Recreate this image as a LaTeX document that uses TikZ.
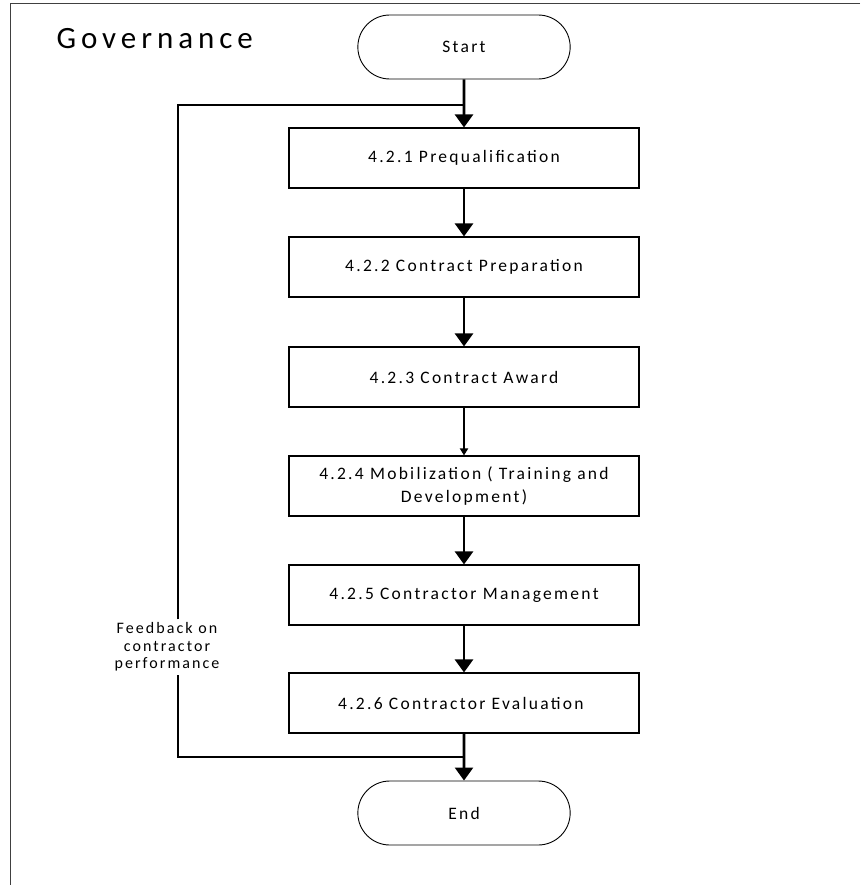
\documentclass[tikz,border=0pt]{standalone}
\usepackage{fontspec}
\setmainfont{Carlito}[LetterSpace=13]
\newfontfamily\titlefont{Carlito}[LetterSpace=16]
\usetikzlibrary{positioning, arrows.meta, shapes.misc}

\begin{document}
\begin{tikzpicture}[x=1pt, y=-1pt,
  procbox/.style={draw, line width=1.1pt, minimum width=350pt, minimum height=60pt,
    align=center, font=\fontsize{17.5}{23}\selectfont},
  termnode/.style={draw, rounded rectangle, line width=0.9pt, minimum width=219pt,
    minimum height=64pt, font=\fontsize{17.5}{21}\selectfont},
  flow/.style={line width=2.6pt, -{Triangle[width=18pt,length=13pt]}},
  smallflow/.style={line width=2.2pt, -{Triangle[width=8pt,length=7pt]}},
  loopline/.style={line width=2.6pt}]
  \useasboundingbox (0,0) rectangle (860,885);

  % frame
  \draw[line width=0.8pt, black!75] (860,3) -- (10,3) -- (10,885);

  \node[anchor=base west, font=\titlefont\fontsize{31}{36}\selectfont] (title) at (53,49) {Governance};

  % terminals
  \node[termnode] (start) at (464,47) {Start};
  \node[termnode] (end) at (464,813) {End};

  % process steps
  \foreach \i/\y/\txt in {
    1/158/{4.2.1 Prequalification},
    2/267/{4.2.2 Contract Preparation},
    3/377/{4.2.3 Contract Award},
    4/486/{4.2.4 Mobilization ( Training and\\ Development)},
    5/595/{4.2.5 Contractor Management},
    6/703/{4.2.6 Contractor Evaluation}
  } {
    \node[procbox] (b\i) at (464,\y) {\txt};
  }

  % arrows
  \draw[flow] (start) -- (b1);
  \foreach \a/\b in {1/2, 2/3, 4/5, 5/6} {
    \draw[flow] (b\a) -- (b\b);
  }
  \draw[smallflow] (b3) -- (b4);
  \draw[flow] (b6) -- (end);

  % feedback loop
  \coordinate (jtop) at (464,105);
  \coordinate (jbot) at (464,757);
  \coordinate (ftop) at (178,105);
  \coordinate (fbot) at (178,757);
  \node[font=\fontsize{16}{17.5}\selectfont, align=center, inner sep=3pt] (fb) at (167,647)
    {Feedback on\\contractor\\performance};
  \draw[loopline] (jbot) -- (fbot) -- (fbot |- fb.south);
  \draw[loopline] (ftop |- fb.north) -- (ftop) -- (jtop);

\end{tikzpicture}
\end{document}
